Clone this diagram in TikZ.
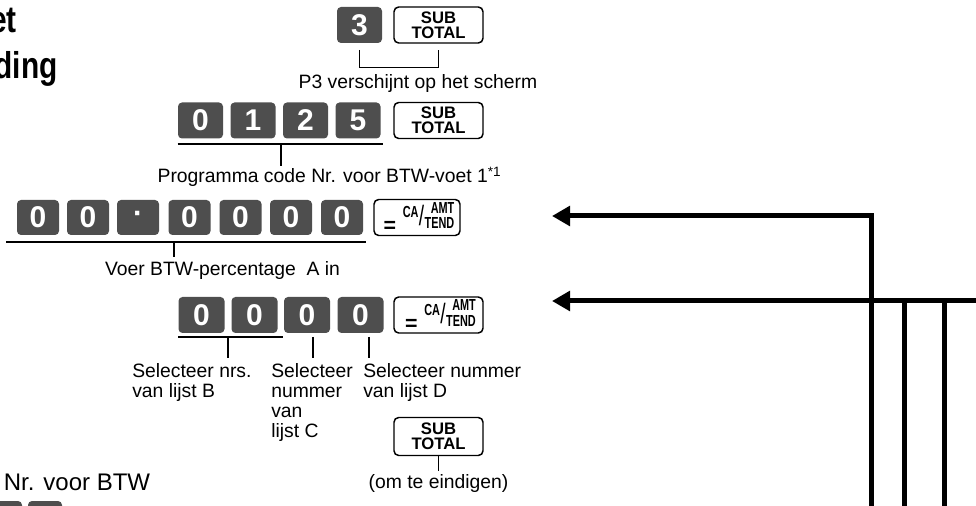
\documentclass[tikz,border=0pt]{standalone}
\usepackage{fontspec}
\setmainfont{Liberation Sans}
\usepackage{graphicx}
\usetikzlibrary{arrows.meta,positioning}
\definecolor{keygray}{RGB}{78,78,78}
\newcommand{\catend}{%
  \hspace{3pt}\raisebox{-5pt}{\fontsize{16}{16}\selectfont\bfseries =}\hspace{5pt}%
  \scalebox{0.68}[1]{\fontsize{12}{12}\selectfont\bfseries
    \raisebox{6pt}{CA}\hspace{0.5pt}{\fontsize{21}{21}\selectfont\mdseries /}\hspace{0.5pt}%
    \raisebox{-2pt}{\shortstack[r]{AMT\\TEND}}}}

\begin{document}
\begin{tikzpicture}[x=0.75pt, y=-0.75pt,
	every node/.style={font=\fontsize{14.5}{15}\selectfont},
	key/.style={fill=keygray, rounded corners=3pt, text=white, font=\bfseries\fontsize{22.5}{22.5}\selectfont, minimum width=33.75pt, minimum height=27pt, inner sep=0pt},
	fkey/.style={draw, line width=1.1pt, rounded corners=3.5pt, fill=white, align=center, font=\bfseries\fontsize{12.5}{11}\selectfont, minimum width=66.75pt, minimum height=27pt, inner sep=0pt},
	lbl/.style={inner sep=0pt},
	link/.style={line width=0.8pt},
	flow/.style={line width=3.75pt, -{Triangle[length=13.5pt, width=14.5pt]}},
	bar/.style={line width=3.75pt}
	]
	
	\clip (0,0) rectangle (976,506);
	
	% heading, cut off at the left
	\node[anchor=base east, inner sep=0pt, font=\bfseries\fontsize{28}{28}\selectfont] (ttl1) at (17,33) {\scalebox{0.8}[1]{et}};
	\node[anchor=base east, inner sep=0pt, font=\bfseries\fontsize{28}{28}\selectfont] (ttl2) at (58,79) {\scalebox{0.8}[1]{ding}};
	
	% step 1
	\node[key] (k3) at (359.5,25) {3};
	\node[fkey] (stA) at (438.5,25) {SUB\\TOTAL};
	\draw[link] ([yshift=-5pt]k3.south) -- ++(0,18) -| ([yshift=-5pt]stA.south);
	\node[lbl, anchor=base] (p3) at (418,89) {P3 verschijnt op het scherm};
	
	% step 2
	\node[key] (b0) at (200.5,120.5) {0};
	\node[key] (b1) at (253,120.5) {1};
	\node[key] (b2) at (305.5,120.5) {2};
	\node[key] (b5) at (358,120.5) {5};
	\node[fkey] (stB) at (438.5,120.5) {SUB\\TOTAL};
	\draw[link] (b0.west |- 0,144) -- ([xshift=2pt]b5.east |- 0,144);
	\draw[link] (281,144) -- (281,166);
	\node[lbl, anchor=base] (code) at (329.5,183) {Programma code Nr. voor BTW-voet 1\textsuperscript{*1}};
	
	% step 3
	\node[key, minimum width=31.5pt, minimum height=26.25pt] (a1) at (38,217.5) {0};
	\node[key, minimum width=31.5pt, minimum height=26.25pt] (a2) at (88,217.5) {0};
	\node[key, minimum width=31.5pt, minimum height=26.25pt] (a3) at (138,217.5) {\textperiodcentered};
	\node[key, minimum width=31.5pt, minimum height=26.25pt] (a4) at (189.5,217.5) {0};
	\node[key, minimum width=31.5pt, minimum height=26.25pt] (a5) at (240.5,217.5) {0};
	\node[key, minimum width=31.5pt, minimum height=26.25pt] (a6) at (291,217.5) {0};
	\node[key, minimum width=31.5pt, minimum height=26.25pt] (a7) at (342,217.5) {0};
	\node[fkey, minimum width=64.5pt] (caA) at (417,217.5) {\catend};
	\draw[link] ([xshift=-8pt]a1.west |- 0,242) -- ([xshift=2pt]a7.east |- 0,242);
	\draw[link] (174,242) -- (174,257);
	\node[lbl, anchor=base] (pct) at (222.5,276) {Voer BTW-percentage\ \ A in};
	
	% step 4
	\node[key, minimum width=34.5pt] (d1) at (201.5,315) {0};
	\node[key, minimum width=34.5pt] (d2) at (254.5,315) {0};
	\node[key, minimum width=34.5pt] (d3) at (307,315) {0};
	\node[key, minimum width=34.5pt] (d4) at (360.5,315) {0};
	\node[fkey] (caB) at (438.5,315) {\catend};
	\draw[link] (d1.west |- 0,337) -- ([xshift=4pt]d2.east |- 0,337);
	\draw[link] (228,337) -- (228,358);
	\draw[link] (313,337) -- (313,358);
	\draw[link] (369,337) -- (369,358);
	\node[lbl, anchor=north west, align=left] (selB) at (132,363) {Selecteer nrs.\\van lijst B};
	\node[lbl, anchor=north west, align=left] (selC) at (271,363) {Selecteer\\nummer\\van\\lijst C};
	\node[lbl, anchor=north west, align=left] (selD) at (363,363) {Selecteer nummer\\van lijst D};
	
	% step 5
	\node[fkey, minimum height=28.5pt] (stC) at (438.5,436.5) {SUB\\TOTAL};
	\draw[link] (stC.south) -- ++(0,15);
	\node[lbl, anchor=base] (fin) at (438.5,488) {(om te eindigen)};
	
	% next part, cut off at the bottom
	\node[lbl, anchor=base, font=\fontsize{18}{18}\selectfont] (nrbtw) at (77,490) {Nr. voor BTW};
	\node[key, minimum width=31.5pt] (e1) at (1,519) {};
	\node[key, minimum width=25.5pt] (e2) at (45,519) {};
	
	% flow lines back to the steps
	\coordinate (tipA) at (552,216);
	\coordinate (tipB) at (552,301);
	\coordinate (bendA) at (871,216);
	\coordinate (footA) at (871,512);
	\coordinate (inB) at (982,301);
	\coordinate (topC) at (904,301);
	\coordinate (footC) at (904,512);
	\coordinate (topD) at (944,301);
	\coordinate (footD) at (944,512);
	\draw[flow] (footA) -- (bendA) -- (tipA);
	\draw[flow] (inB) -- (tipB);
	\draw[bar] (topC) -- (footC);
	\draw[bar] (topD) -- (footD);
	
\end{tikzpicture}
\end{document}
